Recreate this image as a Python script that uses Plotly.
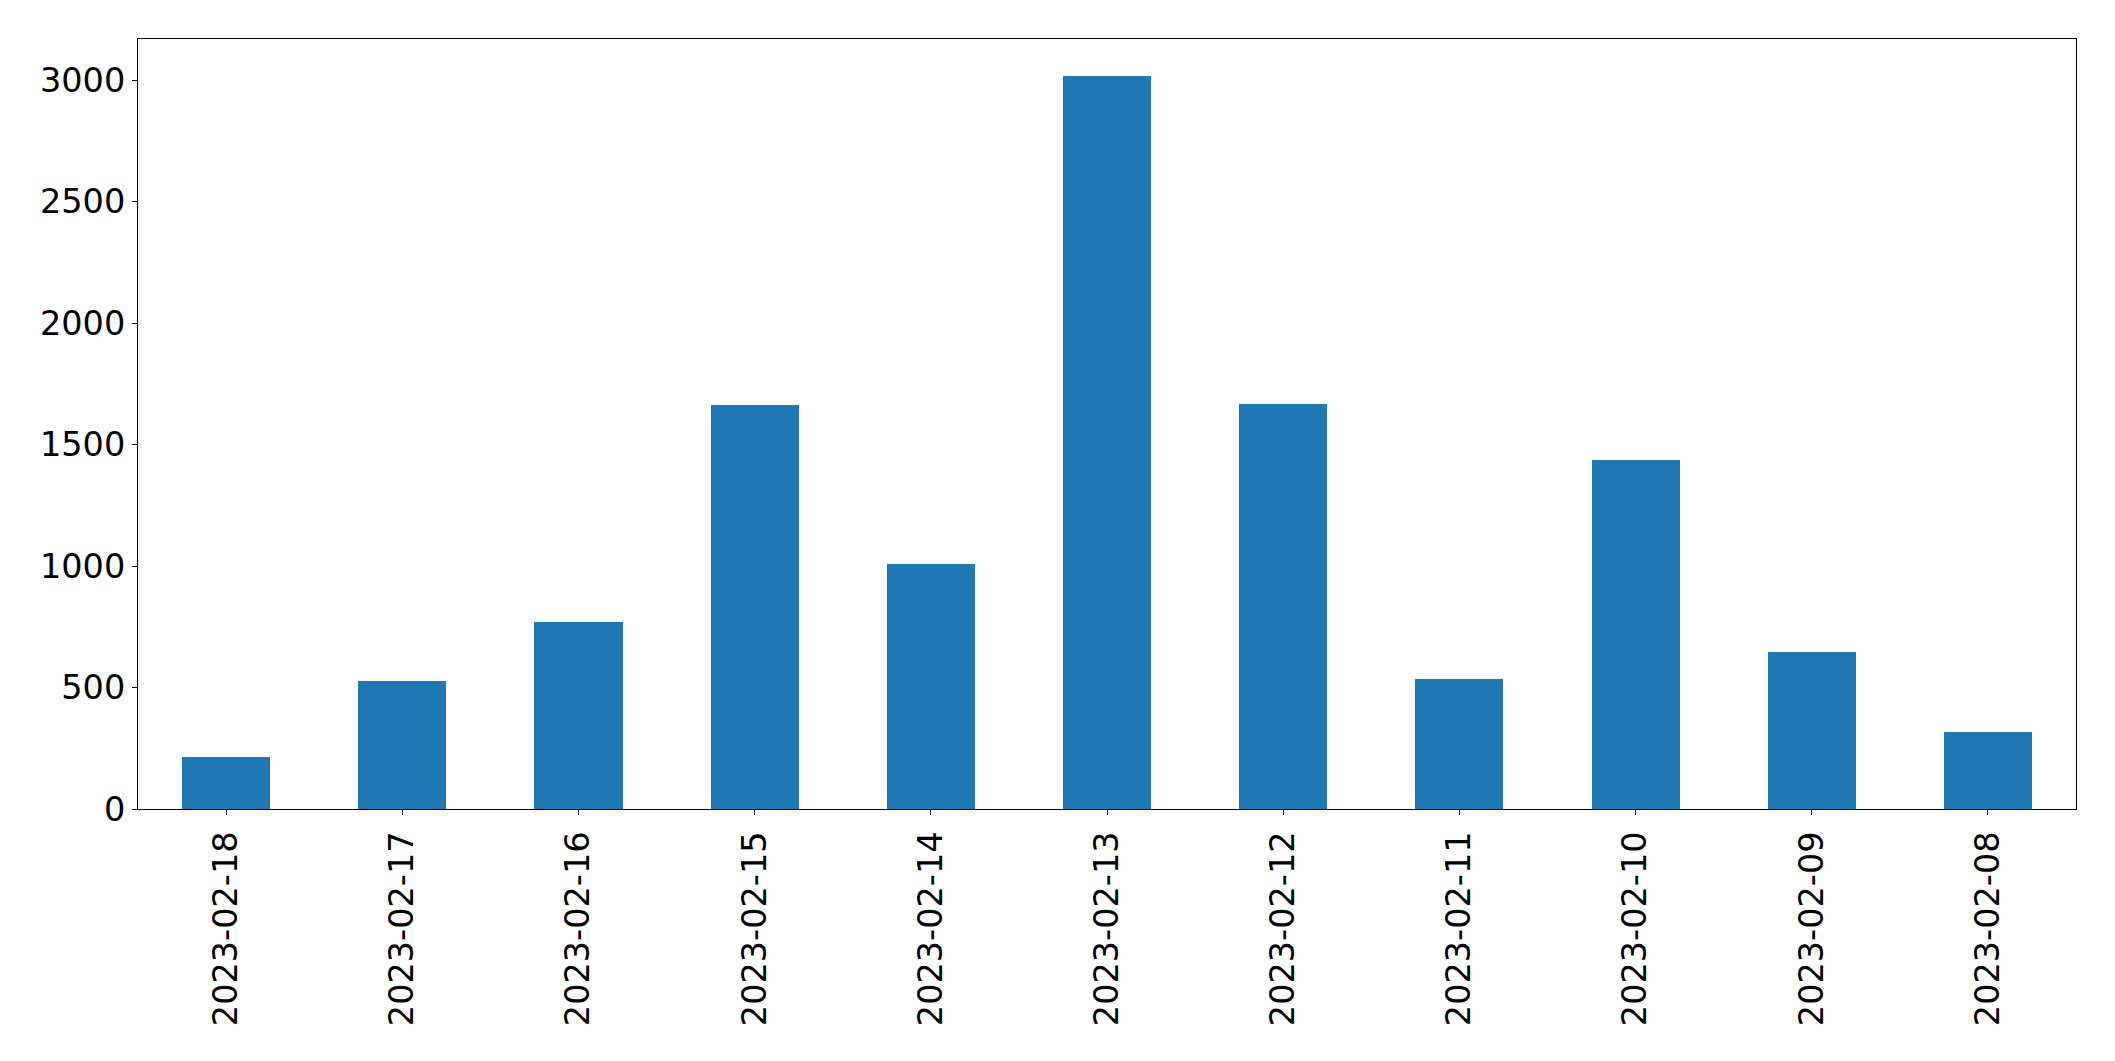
import plotly.graph_objects as go

dates = ["2023-02-18", "2023-02-17", "2023-02-16", "2023-02-15", "2023-02-14",
         "2023-02-13", "2023-02-12", "2023-02-11", "2023-02-10", "2023-02-09", "2023-02-08"]
counts = [214, 527, 771, 1665, 1009, 3019, 1669, 537, 1437, 648, 316]
y_ticks = [0, 500, 1000, 1500, 2000, 2500, 3000]

fig = go.Figure(go.Bar(x=dates, y=counts, width=0.5, marker=dict(color="#1f77b4", line=dict(width=0))))

font = dict(family="DejaVu Sans", size=33.5, color="black")
fig.update_layout(
    width=2115, height=1061,
    margin=dict(l=130, r=47, t=31, b=260),
    paper_bgcolor="white", plot_bgcolor="white",
    showlegend=False,
    font=font,
    bargap=0,
)
fig.update_xaxes(
    type="category", range=[-0.5, len(dates) - 0.5],
    tickangle=-90, ticks="outside", ticklen=5, tickwidth=1.1, tickcolor="black",
    showline=True, linecolor="black", linewidth=1.1, mirror=True,
    showgrid=False, zeroline=False, tickfont=font, ticklabelstandoff=3,
)
fig.update_yaxes(
    range=[0, 3170], tickvals=y_ticks, ticktext=[str(v) for v in y_ticks],
    ticks="outside", ticklen=5, tickwidth=1.1, tickcolor="black",
    showline=True, linecolor="black", linewidth=1.1, mirror=True,
    showgrid=False, zeroline=False, tickfont=font, ticklabelstandoff=0,
)
fig.write_html("out.html")
